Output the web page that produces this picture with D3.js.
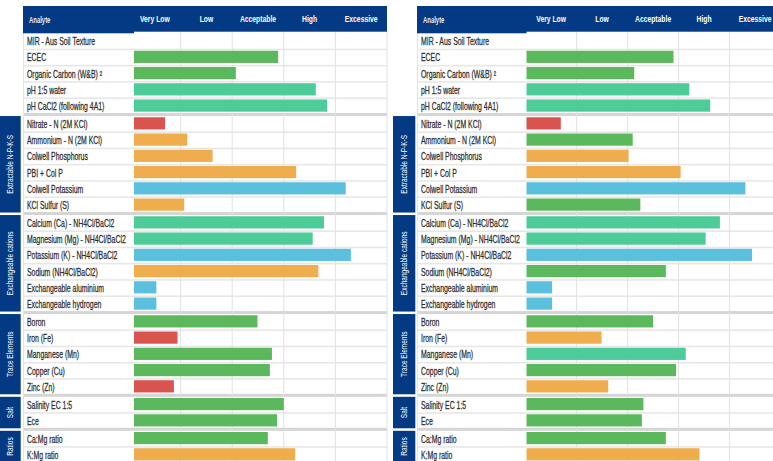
<!DOCTYPE html>
<html><head><meta charset="utf-8">
<script src="https://cdn.jsdelivr.net/npm/d3@7"></script>
<style>
html,body{margin:0;padding:0;background:#fff;}
svg{display:block;font-family:"Liberation Sans","Arial",sans-serif;}
</style></head>
<body>
<script>
// ---------- DATA ----------
const ratingBands = ["Very Low", "Low", "Acceptable", "High", "Excessive"];
const groups = ["", "Extractable N-P-K-S", "Exchangeable cations", "Trace Elements", "Salt", "Ratios"];
const analytes = [
  "MIR - Aus Soil Texture", "ECEC", "Organic Carbon (W&B) \u00B2", "pH 1:5 water", "pH CaCl2 (following 4A1)",
  "Nitrate - N (2M KCl)", "Ammonium - N (2M KCl)", "Colwell Phosphorus", "PBI + Col P", "Colwell Potassium", "KCl Sulfur (S)",
  "Calcium (Ca) - NH4Cl/BaCl2", "Magnesium (Mg) - NH4Cl/BaCl2", "Potassium (K) - NH4Cl/BaCl2", "Sodium (NH4Cl/BaCl2)", "Exchangeable aluminium", "Exchangeable hydrogen",
  "Boron", "Iron (Fe)", "Manganese (Mn)", "Copper (Cu)", "Zinc (Zn)",
  "Salinity EC 1:5", "Ece",
  "Ca:Mg ratio", "K:Mg ratio"
];
const analyteGroup = [0,0,0,0,0, 1,1,1,1,1,1, 2,2,2,2,2,2, 3,3,3,3,3, 4,4, 5,5];

// bar end position in rating-band units (0 = start of "Very Low", 5 = end of "Excessive")
const leftValues  = [null, 2.89, 2.07, 3.62, 3.84, 0.70, 1.13, 1.62, 3.24, 4.20, 1.07, 3.78, 3.56, 4.30, 3.67, 0.53, 0.53, 2.49, 0.94, 2.77, 2.73, 0.87, 3.00, 2.87, 2.69, 3.22];
const leftStatus  = [null, "green","green","teal","teal", "red","orange","orange","orange","blue","orange", "teal","teal","blue","orange","blue","blue", "green","red","green","green","red", "green","green", "green","orange"];
const rightValues = [null, 2.90, 2.13, 3.21, 3.62, 0.69, 2.10, 2.02, 3.04, 4.31, 2.25, 3.81, 3.53, 4.44, 2.75, 0.52, 0.52, 2.50, 1.49, 3.14, 2.95, 1.62, 2.31, 2.28, 2.75, 3.41];
const rightStatus = [null, "green","green","teal","teal", "red","green","orange","orange","blue","green", "teal","teal","blue","green","blue","blue", "green","orange","teal","green","orange", "green","green", "green","orange"];

const statusColor = {green:"#5cb85c", teal:"#4dcb98", red:"#d9534f", orange:"#f0ad4e", blue:"#5bc0de"};
const navy = "#043a84";

// ---------- LAYOUT ----------
const W = 773, H = 461;
const headerTop = 6, headerBottom = 31.7, analyteBottom = 33.3;
const rowsTop = 33.3, rowH = 16.25, groupGap = 1.5;
const rowTop = i => rowsTop + i * rowH + analyteGroup[i] * groupGap;
const SX = 0.69; // condensed look

const panels = [
  {values: leftValues, status: leftStatus, gx: 0, gw: 20.7, lx: 23, bx: 134, cx: 129, cw: 51.6, right: 387},
  {values: rightValues, status: rightStatus, gx: 393, gw: 22.3, lx: 417, bx: 526.5, cx: 525.6, cw: 51, right: 790}
];

const svg = d3.select("body").append("svg").attr("width", W).attr("height", H);

function ctext(parent, x, y, str, opts) {
  const t = parent.append("g").attr("transform", `translate(${x},${y})${opts.rotate ? " rotate(" + opts.rotate + ")" : ""} scale(${opts.sx || SX},1)`)
    .append("text").attr("x", 0).attr("y", 0)
    .attr("font-size", opts.size).attr("fill", opts.fill)
    .attr("text-anchor", opts.anchor || "start");
  if (opts.bold) t.attr("font-weight", "bold");
  if (opts.stroke) t.attr("stroke", opts.fill).attr("stroke-width", opts.stroke);
  t.text(str);
  return t;
}

panels.forEach(p => {
  const g = svg.append("g");
  const x = d3.scaleLinear().domain([0, ratingBands.length]).range([p.cx, p.cx + ratingBands.length * p.cw]);
  const rEnd = Math.min(p.right, x(ratingBands.length));

  // row separators
  analytes.forEach((a, i) => {
    const first = i === 0 || analyteGroup[i] !== analyteGroup[i - 1];
    if (i > 0 && !first) {
      g.append("rect").attr("x", p.lx).attr("y", rowTop(i) - 0.9).attr("width", rEnd - p.lx).attr("height", 1.6).attr("fill", "#e7e7e7");
    }
  });
  // group separators
  analytes.forEach((a, i) => {
    if (i > 0 && analyteGroup[i] !== analyteGroup[i - 1]) {
      g.append("rect").attr("x", p.lx).attr("y", rowTop(i) - 3).attr("width", rEnd - p.lx).attr("height", 3).attr("fill", "#d5d5d5");
    }
  });
  // vertical grid lines
  d3.range(1, ratingBands.length + 1).forEach(k => {
    g.append("line").attr("x1", x(k)).attr("x2", x(k)).attr("y1", headerBottom).attr("y2", H)
      .attr("stroke", "#e2e2e2").attr("stroke-width", 1);
  });
  // label column left border
  g.append("line").attr("x1", p.lx + 0.5).attr("x2", p.lx + 0.5).attr("y1", analyteBottom).attr("y2", H)
    .attr("stroke", "#e4e4e4").attr("stroke-width", 1);

  // bars
  analytes.forEach((a, i) => {
    const v = p.values[i];
    if (v == null) return;
    g.append("rect").attr("x", p.bx).attr("y", rowTop(i) + 1.2)
      .attr("width", x(v) - p.bx).attr("height", 12.2)
      .attr("fill", statusColor[p.status[i]]);
  });

  // labels
  analytes.forEach((a, i) => {
    ctext(g, p.lx + 4, rowTop(i) + 11.9, a, {size: 10, fill: "#2e2e2e", stroke: 0.25});
  });

  // header
  g.append("rect").attr("x", p.lx).attr("y", headerTop).attr("width", Math.min(p.right, W) - p.lx).attr("height", headerBottom - headerTop).attr("fill", navy);
  g.append("rect").attr("x", p.lx).attr("y", headerTop).attr("width", p.bx - p.lx).attr("height", analyteBottom - headerTop).attr("fill", navy);
  ctext(g, p.lx + 6, 23, "Analyte", {size: 8.6, fill: "#e8ecf4", bold: true});
  ratingBands.forEach((b, k) => {
    ctext(g, x(k + 0.5), 22.3, b, {size: 9.4, fill: "#fff", bold: true, anchor: "middle", sx: 0.72});
  });

  // group blocks
  groups.forEach((name, gi) => {
    if (!name) return;
    const idx = analyteGroup.map((gg, i) => gg === gi ? i : -1).filter(i => i >= 0);
    const y0 = rowTop(idx[0]);
    const y1 = rowTop(idx[idx.length - 1]) + rowH - 1;
    g.append("rect").attr("x", p.gx).attr("y", y0).attr("width", p.gw).attr("height", y1 - y0).attr("fill", navy);
    const cy = (y0 + Math.min(y1, H + 8)) / 2;
    ctext(g, p.gx + p.gw / 2 + 3, cy, name, {size: 8.6, fill: "#fff", anchor: "middle", rotate: -90, sx: 0.76});
  });
});
</script>
</body></html>
